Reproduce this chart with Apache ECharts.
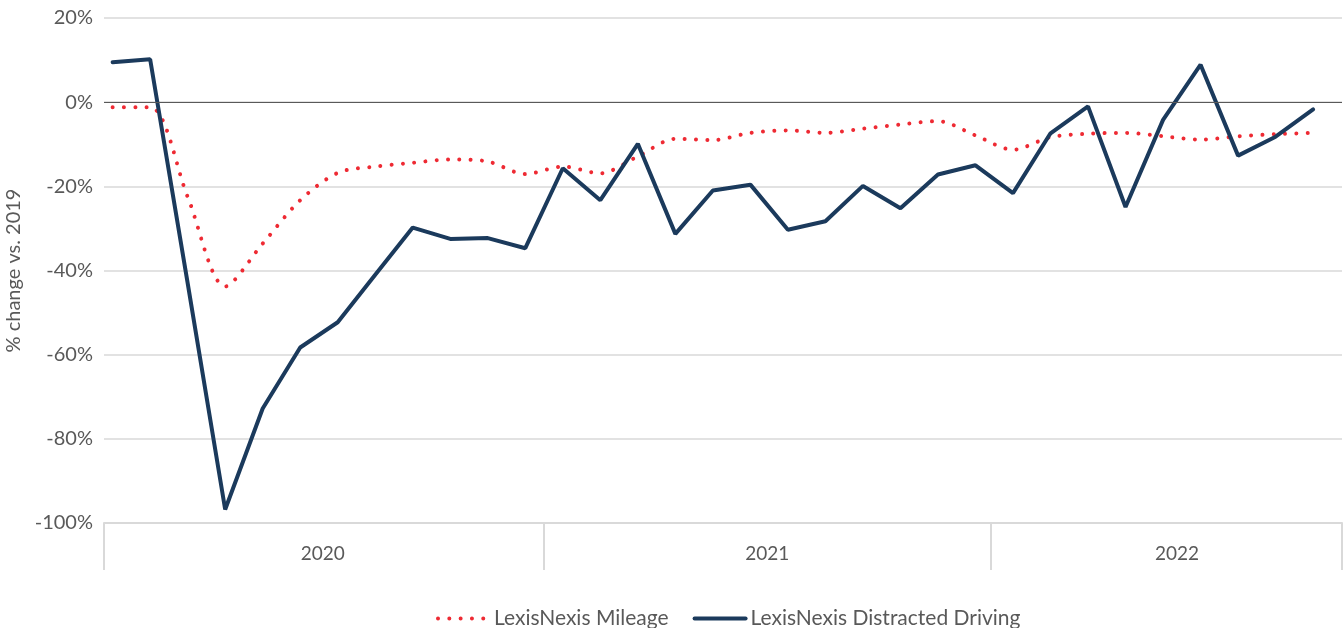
<!DOCTYPE html>
<html>
<head>
<meta charset="utf-8">
<script src="https://cdn.jsdelivr.net/npm/echarts@6/dist/echarts.min.js"></script>
<style>
html, body { margin: 0; padding: 0; background: #fff; }
#main { width: 1343px; height: 628px; }
</style>
</head>
<body>
<div id="main"></div>
<script>
// monthly points, Jan 2020 .. Sep 2022
var months = [];
for (var y = 2020; y <= 2022; y++) {
	for (var m = 1; m <= 12; m++) {
		if (y == 2022 && m > 9) break;
		months.push(y + '-' + (m < 10 ? '0' + m : m));
	}
}
var mileage = [-1.2, -1.2, -22.5, -43.8, -33.6, -23.3, -16.8, -15.3, -14.4, -13.6, -14.1, -17.1,
	-15.3, -16.9, -12.9, -8.7, -9.0, -7.3, -6.7, -7.3, -6.3, -5.3, -4.5, -7.9,
	-11.3, -8.3, -7.5, -7.3, -8.1, -8.9, -8.1, -7.6, -7.3];
var distracted = [9.5, 10.2, -43, -96.8, -72.8, -58.3, -52.3, -41, -29.8, -32.5, -32.3, -34.7,
	-15.7, -23.3, -9.9, -31.3, -21.0, -19.6, -30.3, -28.3, -19.9, -25.2, -17.2, -15.0,
	-21.6, -7.4, -1.0, -24.9, -4.2, 8.9, -12.7, -8.2, -1.7];

// year bands on the month-index axis
var years = ['2020', '2021', '2022'];
var yearBreaks = [-0.23, 11.5, 23.42, 32.77];
var yearLabelAt = [5.6, 17.45, 28.37];

function toPairs(arr) {
	var out = [];
	for (var i = 0; i < arr.length; i++) out.push([i, arr[i]]);
	return out;
}

var textColor = '#595959';
var font = 'Lato';

var option = {
	animation: false,
	textStyle: { fontFamily: font },
	grid: { left: 104, right: 1, top: 18, bottom: 105, outerBoundsMode: 'none', containLabel: false },
	legend: {
		top: 603,
		left: 431,
		itemWidth: 51,
		itemHeight: 12,
		itemGap: 24,
		itemStyle: { opacity: 0 },
		lineStyle: { width: 4, cap: 'round' },
		textStyle: { color: textColor, fontSize: 21, fontFamily: font },
		data: ['LexisNexis Mileage', 'LexisNexis Distracted Driving']
	},
	xAxis: {
		type: 'value',
		min: yearBreaks[0],
		max: yearBreaks[yearBreaks.length - 1],
		splitLine: { show: false },
		axisLine: { show: true, onZero: false, lineStyle: { color: '#d9d9d9', width: 2 } },
		axisTick: {
			show: true,
			length: 47,
			customValues: yearBreaks,
			lineStyle: { color: '#d9d9d9', width: 2 }
		},
		axisLabel: {
			customValues: yearLabelAt,
			margin: 21,
			color: textColor,
			fontSize: 19,
			fontFamily: font,
			formatter: function(v) {
				for (var i = 0; i < yearLabelAt.length; i++) {
					if (Math.abs(v - yearLabelAt[i]) < 0.01) return years[i];
				}
				return '';
			}
		}
	},
	yAxis: {
		type: 'value',
		min: -100,
		max: 20,
		interval: 20,
		name: '% change vs. 2019',
		nameLocation: 'middle',
		nameGap: 74,
		nameTextStyle: { color: textColor, fontSize: 20, fontFamily: font },
		axisLine: { show: false },
		axisTick: { show: false },
		axisLabel: {
			color: textColor,
			fontSize: 20,
			fontFamily: font,
			margin: 11,
			formatter: '{value}%'
		},
		splitLine: { lineStyle: { color: '#d9d9d9', width: 1.5 } }
	},
	series: [{
		name: 'LexisNexis Mileage',
		type: 'line',
		data: toPairs(mileage),
		symbol: 'none',
		smooth: 0.3,
		z: 3,
		lineStyle: { color: '#ee2a33', width: 4, type: [0.01, 11.3], cap: 'round' },
		itemStyle: { color: '#ee2a33' },
		markLine: {
			silent: true,
			symbol: 'none',
			label: { show: false },
			lineStyle: { color: '#595959', width: 1.2, type: 'solid' },
			data: [{ yAxis: 0 }]
		}
	}, {
		name: 'LexisNexis Distracted Driving',
		type: 'line',
		data: toPairs(distracted),
		symbol: 'none',
		z: 4,
		lineStyle: { color: '#1b3a5c', width: 4, cap: 'round' },
		itemStyle: { color: '#1b3a5c' }
	}]
};

var chart = echarts.init(document.getElementById('main'));
chart.setOption(option);
</script>
</body>
</html>
